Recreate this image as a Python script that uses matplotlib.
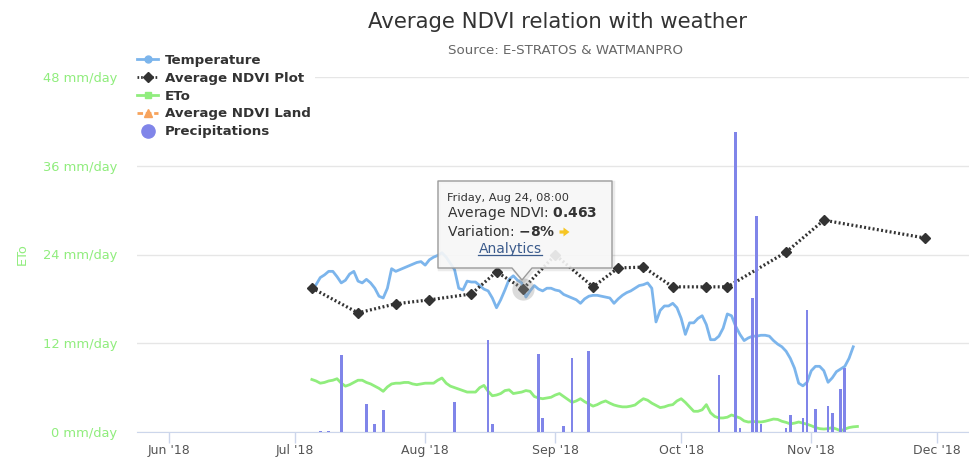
import numpy as np
import matplotlib
matplotlib.use("Agg")
import matplotlib.pyplot as plt
from matplotlib.lines import Line2D
from matplotlib.patches import Polygon, FancyArrow
from matplotlib.transforms import IdentityTransform

W, H = 969, 458

# ---------------- data ----------------
temp_start = "2018-07-06"
temperature = [16.6, 17.4, 17.7, 18.1, 18.1, 17.5, 16.8, 17.1, 17.8, 18.1,
               17.0, 16.8, 17.2, 16.8, 16.2, 15.3, 15.1, 16.2, 18.4, 18.1,
               18.3, 18.5, 18.7, 18.9, 19.1, 19.2, 18.8, 19.4, 19.7, 19.9,
               20.2, 19.7, 19.0, 18.3, 16.2, 16.0, 17.0, 16.9, 16.9, 16.5,
               16.1, 15.9, 15.1, 14.0, 14.9, 16.0, 17.2, 17.6, 17.1, 16.8,
               15.2, 15.9, 16.5, 16.1, 15.9, 16.2, 16.2, 16.0, 15.9, 15.5,
               15.3, 15.1, 14.9, 14.5, 15.0, 15.3, 15.4, 15.4, 15.3, 15.2,
               15.1, 14.5, 15.0, 15.4, 15.7, 15.9, 16.2, 16.5, 16.6, 16.8,
               16.2, 12.4, 13.7, 14.2, 14.2, 14.5, 14.0, 12.8, 11.0, 12.3,
               12.3, 12.8, 13.1, 12.1, 10.4, 10.4, 10.8, 11.7, 13.3, 13.1,
               11.9, 11.0, 10.3, 10.6, 10.8, 10.8, 10.9, 10.9, 10.8, 10.3,
               9.9, 9.6, 9.1, 8.3, 7.2, 5.5, 5.2, 5.6, 6.9, 7.4,
               7.4, 6.9, 5.6, 6.1, 6.8, 7.1, 7.4, 8.3, 9.6]

eto_start = "2018-07-05"
eto = [7.1, 6.9, 6.6, 6.7, 6.9, 7.0, 7.2, 6.6, 6.2, 6.4,
       6.7, 7.0, 7.0, 6.7, 6.5, 6.2, 5.9, 5.5, 6.1, 6.5,
       6.6, 6.6, 6.7, 6.7, 6.5, 6.4, 6.5, 6.6, 6.6, 6.6,
       7.0, 7.3, 6.6, 6.2, 6.0, 5.8, 5.6, 5.4, 5.4, 5.4,
       6.0, 6.3, 5.5, 4.9, 5.0, 5.2, 5.6, 5.7, 5.2, 5.3,
       5.4, 5.6, 5.5, 4.8, 4.6, 4.5, 4.6, 4.7, 5.0, 5.2,
       4.8, 4.4, 4.0, 4.2, 4.5, 4.1, 3.8, 3.5, 3.7, 4.0,
       4.2, 3.9, 3.65, 3.5, 3.4, 3.4, 3.5, 3.65, 4.1, 4.5,
       4.3, 3.9, 3.6, 3.3, 3.4, 3.6, 3.7, 4.2, 4.5, 4.0,
       3.4, 2.8, 2.8, 3.0, 3.7, 2.6, 2.1, 1.9, 1.9, 2.0,
       2.3, 2.1, 1.9, 1.5, 1.35, 1.4, 1.4, 1.35, 1.45, 1.6,
       1.75, 1.7, 1.45, 1.3, 1.1, 1.2, 1.35, 1.2, 1.05, 0.85,
       0.6, 0.45, 0.4, 0.45, 0.6, 0.4, 0.15, 0.4, 0.6, 0.7,
       0.75]

ndvi_dates = ["2018-07-05", "2018-07-16", "2018-07-25", "2018-08-02",
              "2018-08-12", "2018-08-18", "2018-08-24T08:00", "2018-09-01",
              "2018-09-10", "2018-09-16", "2018-09-22", "2018-09-29",
              "2018-10-07", "2018-10-12", "2018-10-26", "2018-11-04",
              "2018-11-28"]
ndvi_values = [0.465, 0.402, 0.425, 0.435, 0.450, 0.506, 0.463, 0.549,
               0.468, 0.516, 0.518, 0.468, 0.468, 0.468, 0.556, 0.637,
               0.592]

precip_dates = ["2018-07-07", "2018-07-09", "2018-07-12", "2018-07-18",
                "2018-07-20", "2018-07-22", "2018-08-08", "2018-08-16",
                "2018-08-17", "2018-08-28", "2018-08-29", "2018-09-03",
                "2018-09-05", "2018-09-09", "2018-10-10", "2018-10-14",
                "2018-10-15", "2018-10-18", "2018-10-19", "2018-10-20",
                "2018-10-26", "2018-10-27", "2018-10-30", "2018-10-31",
                "2018-11-02", "2018-11-05", "2018-11-06", "2018-11-08",
                "2018-11-09"]
precip_values = [0.2, 0.2, 10.4, 3.8, 1.1, 3.0, 4.1, 12.4,
                 1.1, 10.6, 1.9, 0.8, 10.0, 11.0, 7.7, 40.6,
                 0.5, 18.1, 29.2, 1.1, 0.5, 2.3, 1.9, 16.5,
                 3.1, 3.5, 2.6, 5.8, 8.6]

month_ticks = ["2018-06-01", "2018-07-01", "2018-08-01", "2018-09-01",
               "2018-10-01", "2018-11-01", "2018-12-01"]
month_labels = ["Jun '18", "Jul '18", "Aug '18", "Sep '18",
                "Oct '18", "Nov '18", "Dec '18"]
eto_ticks = [0, 12, 24, 36, 48]
eto_tick_labels = ["0 mm/day", "12 mm/day", "24 mm/day", "36 mm/day", "48 mm/day"]

title = "Average NDVI relation with weather"
subtitle = "Source: E-STRATOS & WATMANPRO"
legend_labels = ["Temperature", "Average NDVI Plot", "ETo",
                 "Average NDVI Land", "Precipitations"]

# ---------------- colours ----------------
C_TEMP = "#7cb5ec"
C_NDVI = "#333333"
C_ETO = "#90ed7d"
C_LAND = "#f7a35c"
C_PREC = "#8085e9"

plt.rcParams["font.family"] = ["DejaVu Sans"]

fig = plt.figure(figsize=(W / 100, H / 100), dpi=100)
fig.patch.set_facecolor("white")

ax = fig.add_axes([137 / W, (H - 432) / H, (969 - 137) / W, 355 / H])
ax.set_xlim(np.datetime64("2018-05-24T08:00"), np.datetime64("2018-12-08T14:00"))
ax.set_ylim(0, 48)
ax.set_yticks(eto_ticks)
ax.set_yticklabels(eto_tick_labels, color=C_ETO, fontsize=9.4)
ax.tick_params(axis="y", length=0, pad=14)
ax.grid(axis="y", color="#e6e6e6", lw=1)
ax.set_axisbelow(True)
for s in ["top", "right", "left"]:
    ax.spines[s].set_visible(False)
ax.spines["bottom"].set_color("#ccd6eb")
ax.set_xticks([np.datetime64(d) for d in month_ticks])
ax.set_xticklabels(month_labels)
ax.tick_params(axis="x", length=8, width=1, color="#ccd6eb",
               labelcolor="#555555", labelsize=9.0, pad=0.5)

eto_dates = np.datetime64(eto_start) + np.arange(len(eto)).astype("timedelta64[D]")
ax.plot(eto_dates, eto, color=C_ETO, lw=2, solid_joinstyle="round")

axT = ax.twinx()
axT.set_ylim(0, 40)
axT.axis("off")
temp_dates = np.datetime64(temp_start) + np.arange(len(temperature)).astype("timedelta64[D]")
axT.plot(temp_dates, temperature, color=C_TEMP, lw=2, solid_joinstyle="round")

axN = ax.twinx()
axN.set_ylim(0.1, 1.0)
axN.axis("off")
nd = np.array([np.datetime64(d, "m") for d in ndvi_dates])
axN.plot(nd, ndvi_values, color=C_NDVI, lw=2.3, ls=(0, (0.6, 0.75)),
         dash_capstyle="butt", marker="D", ms=5.5, mfc=C_NDVI, mec=C_NDVI)
# hover halo on the point shown in tooltip
axN.plot(nd[6], ndvi_values[6], "o", ms=16, color="#999999", alpha=0.35, mec="none")

axP = ax.twinx()
axP.set_ylim(0, 48)
axP.axis("off")
pd_ = np.array([np.datetime64(d) for d in precip_dates])
axP.bar(pd_, precip_values, width=0.65, color=C_PREC, align="center")

# ---------------- titles ----------------
fig.text(558 / W, 1 - 22 / H, title, ha="center", va="center",
         fontsize=15.3, color="#333333")
fig.text(565 / W, 1 - 50 / H, subtitle, ha="center", va="center",
         fontsize=9.6, color="#666666")
fig.text(22 / W, 1 - 254 / H, "ETo", rotation=90, ha="center", va="center",
         fontsize=9.4, color=C_ETO)

# ---------------- legend ----------------
handles = [
    Line2D([], [], color=C_TEMP, lw=2, marker="o", ms=5),
    Line2D([], [], color=C_NDVI, lw=2, ls=(0, (0.6, 0.7)), marker="D", ms=5),
    Line2D([], [], color=C_ETO, lw=2, marker="s", ms=5),
    Line2D([], [], color=C_LAND, lw=2, ls=(0, (2, 1)), marker="^", ms=6),
    Line2D([], [], ls="", marker="o", ms=9.5, color=C_PREC),
]
leg = fig.legend(handles, legend_labels, loc="upper left",
                 bbox_to_anchor=(133 / W, 1 - 50 / H), frameon=True,
                 facecolor="white", edgecolor="none", framealpha=1,
                 prop={"weight": "bold", "size": 9.6}, labelcolor="#333333",
                 handlelength=1.6, handletextpad=0.5, labelspacing=0.36,
                 borderpad=0.3, borderaxespad=0, fancybox=False)

# ---------------- tooltip ----------------
def fx(x):
    return x / W

def fy(y):
    return 1 - y / H

box = [(438, 181), (612, 181), (612, 268), (532, 268), (522, 280), (512, 268), (438, 268)]
shadow = Polygon([(fx(x + 1.5), fy(y + 1.5)) for x, y in box], closed=True,
                 transform=fig.transFigure, fc="none", ec="black", lw=2.5, alpha=0.08)
fig.add_artist(shadow)
tip = Polygon([(fx(x), fy(y)) for x, y in box], closed=True, transform=fig.transFigure,
              fc=(0.97, 0.97, 0.97, 0.9), ec="#9b9b9b", lw=1, joinstyle="round")
fig.add_artist(tip)

fig.text(fx(447), fy(198), "Friday, Aug 24, 08:00", ha="left", va="center",
         fontsize=8.2, color="#333333")
fig.text(fx(447), fy(214), r"Average NDVI: $\mathbf{0.463}$", ha="left", va="center",
         fontsize=10, color="#333333")
tvar = fig.text(fx(447), fy(232), r"Variation: $\mathbf{-8\%}$", ha="left", va="center",
                fontsize=10, color="#333333")
tan = fig.text(fx(510), fy(249), "Analytics", ha="center", va="center",
               fontsize=10, color="#3b5b8c")

fig.canvas.draw()
bbv = tvar.get_window_extent()
ymid = (bbv.y0 + bbv.y1) / 2
arr = FancyArrow(bbv.x1 + 4, ymid, 10, 0, width=3.2, head_width=9, head_length=6,
                 length_includes_head=True, transform=IdentityTransform(),
                 color="#f6c624", lw=0)
fig.add_artist(arr)
bba = tan.get_window_extent()
fig.add_artist(Line2D([bba.x0, bba.x1], [bba.y0 + 1, bba.y0 + 1],
                      transform=IdentityTransform(), color="#3b5b8c", lw=0.9))

fig.savefig("out.png", dpi=100, facecolor="white")
